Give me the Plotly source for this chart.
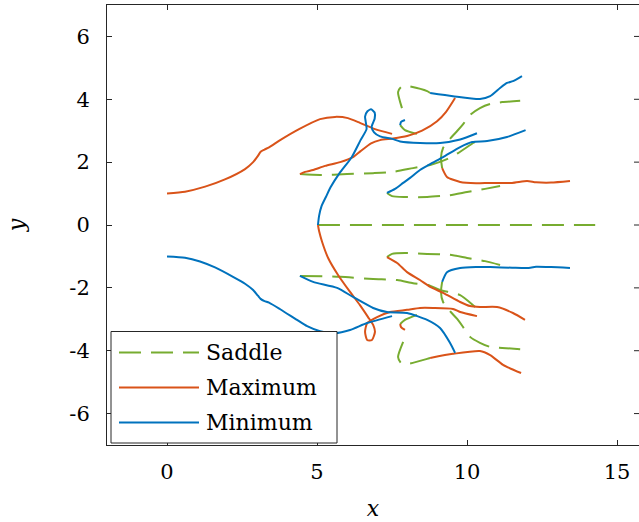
import plotly.graph_objects as go

# ---- curve data: saddle points ----
sad0_x = [5.03, 14.27]
sad0_y = [0.0, 0.0]
sad1_x = [4.43, 5.1, 6.0, 6.87, 7.53, 8.2, 8.77, 9.27, 9.7, 10.2, 10.3]
sad1_y = [1.62, 1.59, 1.62, 1.65, 1.69, 1.81, 1.91, 2.07, 2.29, 2.61, 2.67]
sad2_x = [4.43, 5.77, 6.87, 7.67, 8.2, 8.7, 9.1, 9.77, 10.2, 10.3]
sad2_y = [-1.62, -1.65, -1.72, -1.75, -1.85, -1.91, -2.07, -2.23, -2.55, -2.64]
sad3_x = [7.33, 7.5, 7.93, 8.67, 9.43, 10.0, 10.6, 11.1]
sad3_y = [1.02, 0.92, 0.89, 0.89, 0.95, 1.05, 1.15, 1.24]
sad4_x = [7.33, 7.5, 7.93, 8.67, 9.43, 10.0, 10.6, 11.1]
sad4_y = [-1.02, -0.92, -0.89, -0.92, -0.95, -1.05, -1.15, -1.27]
sad5_x = [7.83, 7.7, 7.8, 8.03, 8.67, 8.77]
sad5_y = [3.72, 4.23, 4.39, 4.42, 4.26, 4.20]
sad6_x = [7.87, 7.7, 7.8, 8.03, 8.67, 8.77]
sad6_y = [-3.72, -4.20, -4.39, -4.42, -4.26, -4.23]
sad7_x = [7.77, 7.93, 8.33]
sad7_y = [3.18, 3.02, 2.90]
sad8_x = [7.77, 7.93, 8.33]
sad8_y = [-3.15, -3.02, -2.86]
sad9_x = [9.17, 9.13, 9.2, 9.43, 9.67, 9.87, 10.1, 10.43, 10.77, 11.17, 11.77]
sad9_y = [1.81, 2.13, 2.45, 2.74, 2.99, 3.21, 3.50, 3.72, 3.85, 3.91, 3.95]
sad10_x = [9.17, 9.13, 9.2, 9.43, 9.67, 9.87, 10.1, 10.43, 10.77, 11.17, 11.77]
sad10_y = [-1.81, -2.13, -2.45, -2.74, -2.99, -3.25, -3.56, -3.75, -3.88, -3.91, -3.95]

# ---- curve data: maxima ----
max1_x = [0, 0.6, 1.27, 1.93, 2.6, 2.87, 3.03, 3.12, 3.25, 3.4, 3.77, 4.4, 5.1, 5.6, 6.03, 6.43, 6.93, 7.5]
max1_y = [1.0, 1.06, 1.22, 1.45, 1.78, 2.0, 2.2, 2.33, 2.4, 2.47, 2.7, 3.05, 3.37, 3.44, 3.40, 3.25, 3.05, 2.90]
max2_x = [4.43, 4.6, 4.87, 5.27, 5.77, 6.2, 6.45, 6.8, 7.1, 7.53, 8.0, 8.5, 9.0, 9.3, 9.6]
max2_y = [1.62, 1.69, 1.75, 1.88, 2.0, 2.16, 2.35, 2.6, 2.7, 2.75, 2.83, 3.0, 3.3, 3.6, 4.04]
max3_x = [5.03, 5.07, 5.17, 5.37, 5.7, 6.1, 6.43, 6.7, 6.87, 6.93, 6.83, 6.67, 6.6, 6.67, 7.0, 7.43, 8.0, 8.43, 8.87, 9.53, 9.77, 10.33]
max3_y = [0.0, -0.2, -0.54, -1.05, -1.59, -2.13, -2.55, -2.93, -3.18, -3.40, -3.66, -3.66, -3.40, -3.12, -2.93, -2.77, -2.70, -2.64, -2.64, -2.67, -2.77, -2.90]
max4_x = [7.33, 7.67, 8.0, 8.43, 8.77, 9.2, 9.77, 10.1, 10.43, 11.0, 11.53, 11.93]
max4_y = [-1.02, -1.21, -1.50, -1.75, -1.97, -2.16, -2.45, -2.58, -2.61, -2.61, -2.80, -3.02]
max5_x = [8.77, 9.53, 10.43, 10.77, 11.2, 11.8]
max5_y = [-4.23, -4.10, -4.01, -4.14, -4.45, -4.71]
max6_x = [7.77, 7.8, 7.93]
max6_y = [-3.15, -3.25, -3.34]
max7_x = [9.17, 9.33, 9.77, 10.3, 10.77, 11.5, 12.0, 12.3, 12.8, 13.43]
max7_y = [1.81, 1.53, 1.37, 1.33, 1.34, 1.34, 1.40, 1.36, 1.35, 1.40]

# ---- curve data: minima ----
min1_x = [0, 0.6, 1.1, 1.6, 2.2, 2.6, 2.87, 3.03, 3.12, 3.25, 3.4, 3.77, 4.3, 4.67, 5.1, 5.6, 6.1, 6.67, 7.5]
min1_y = [-1.0, -1.04, -1.16, -1.35, -1.65, -1.87, -2.07, -2.25, -2.35, -2.42, -2.47, -2.68, -3.0, -3.22, -3.38, -3.44, -3.34, -3.12, -2.90]
min2_x = [4.43, 4.87, 5.67, 6.2, 6.87, 7.33, 8.0, 8.67, 9.1, 9.43, 9.6]
min2_y = [-1.62, -1.81, -2.0, -2.29, -2.64, -2.77, -2.80, -3.02, -3.28, -3.75, -4.07]
min3_x = [5.03, 5.07, 5.15, 5.3, 5.45, 5.75, 6.15, 6.45, 6.65, 6.62, 6.6, 6.68, 6.8, 6.92, 6.92, 6.82, 6.9, 7.1, 7.5, 7.77, 8.43, 9.1, 9.77, 10.33]
min3_y = [0.0, 0.3, 0.6, 0.9, 1.2, 1.65, 2.15, 2.7, 3.05, 3.3, 3.45, 3.62, 3.68, 3.58, 3.38, 3.12, 2.95, 2.82, 2.74, 2.66, 2.61, 2.61, 2.72, 2.92]
min4_x = [7.33, 7.6, 7.87, 8.1, 8.43, 8.77, 9.2, 9.77, 10.17, 10.67, 11.33, 11.95]
min4_y = [1.02, 1.15, 1.34, 1.50, 1.75, 1.94, 2.16, 2.48, 2.64, 2.67, 2.80, 3.02]
min5_x = [8.77, 9.53, 10.43, 10.77, 11.1, 11.33, 11.53, 11.83]
min5_y = [4.20, 4.10, 4.01, 4.10, 4.36, 4.52, 4.58, 4.74]
min6_x = [7.77, 7.8, 7.93]
min6_y = [3.18, 3.28, 3.34]
min7_x = [9.17, 9.33, 9.77, 10.3, 10.77, 11.5, 12.0, 12.3, 12.8, 13.43]
min7_y = [-1.81, -1.50, -1.37, -1.34, -1.34, -1.36, -1.37, -1.33, -1.34, -1.37]

# ---- axes ----
x_ticks = [0, 5, 10, 15]
x_ticktext = ["0", "5", "10", "15"]
y_ticks = [-6, -4, -2, 0, 2, 4, 6]
y_ticktext = ["-6", "-4", "-2", "0", "2", "4", "6"]
x_range = [-2, 15.73]
y_range = [-7, 7]

series_names = ["Saddle", "Maximum", "Minimum"]

GREEN = "#77AC30"
ORANGE = "#D95319"
BLUE = "#0072BD"
AXIS = "#262626"
DASH = "22px,10px"
FONT = "DejaVu Serif"

saddles = [(sad0_x, sad0_y), (sad1_x, sad1_y), (sad2_x, sad2_y), (sad3_x, sad3_y),
           (sad4_x, sad4_y), (sad5_x, sad5_y), (sad6_x, sad6_y), (sad7_x, sad7_y),
           (sad8_x, sad8_y), (sad9_x, sad9_y), (sad10_x, sad10_y)]
maxima = [(max1_x, max1_y), (max2_x, max2_y), (max3_x, max3_y), (max4_x, max4_y),
          (max5_x, max5_y), (max6_x, max6_y), (max7_x, max7_y)]
minima = [(min1_x, min1_y), (min2_x, min2_y), (min3_x, min3_y), (min4_x, min4_y),
          (min5_x, min5_y), (min6_x, min6_y), (min7_x, min7_y)]

fig = go.Figure()

groups = [
    (series_names[0], saddles, dict(color=GREEN, width=2, dash=DASH)),
    (series_names[1], maxima, dict(color=ORANGE, width=2)),
    (series_names[2], minima, dict(color=BLUE, width=2)),
]
for name, curves, style in groups:
    for cx, cy in curves:
        fig.add_trace(go.Scatter(
            x=cx, y=cy, mode="lines", name=name, legendgroup=name,
            showlegend=False, line=dict(shape="spline", smoothing=0.6, **style),
            hoverinfo="skip",
        ))

# ---- boxed legend (long line samples) ----
W, H = 639, 522
ML, MR, MT, MB = 107, 0, 5, 77
pw, ph = W - ML - MR, H - MT - MB


def px(xp):
    return (xp - ML) / pw


def py(yp):
    return (H - MB - yp) / ph


shapes = [dict(type="rect", xref="paper", yref="paper",
               x0=px(111), x1=px(337), y0=py(443), y1=py(331.5),
               line=dict(color=AXIS, width=1), fillcolor="white", layer="above")]
annotations = []
row_y = [352.5, 387.5, 422.5]
row_style = [dict(color=GREEN, width=2, dash=DASH),
             dict(color=ORANGE, width=2), dict(color=BLUE, width=2)]
for name, yy, st in zip(series_names, row_y, row_style):
    shapes.append(dict(type="line", xref="paper", yref="paper",
                       x0=px(119), x1=px(199), y0=py(yy), y1=py(yy),
                       line=st, layer="above"))
    annotations.append(dict(text=name, xref="paper", yref="paper",
                            x=px(204), y=py(yy), xanchor="left", yanchor="middle",
                            showarrow=False,
                            font=dict(family=FONT, size=22, color="black")))

# tick stubs along the right edge
for t in y_ticks:
    shapes.append(dict(type="line", xref="paper", yref="y", xsizemode="pixel",
                       xanchor=1, x0=-5, x1=0, y0=t, y1=t,
                       line=dict(color=AXIS, width=1)))

fig.update_layout(
    width=W, height=H,
    margin=dict(l=ML, r=MR, t=MT, b=MB, pad=0),
    paper_bgcolor="white", plot_bgcolor="white",
    font=dict(family=FONT, color=AXIS),
    shapes=shapes, annotations=annotations,
    showlegend=False,
)
fig.update_xaxes(
    range=x_range, tickvals=x_ticks, ticktext=x_ticktext,
    showgrid=False, zeroline=False, showline=True, linecolor=AXIS, linewidth=1,
    mirror="ticks", ticks="inside", ticklen=5, tickcolor=AXIS, tickwidth=1,
    tickfont=dict(family=FONT, size=21, color="black"), ticklabelstandoff=8,
    title=dict(text="<i>x</i>", font=dict(family=FONT, size=22, color="black"), standoff=17),
)
fig.update_yaxes(
    range=y_range, tickvals=y_ticks, ticktext=y_ticktext,
    showgrid=False, zeroline=False, showline=True, linecolor=AXIS, linewidth=1,
    ticks="inside", ticklen=5, tickcolor=AXIS, tickwidth=1,
    tickfont=dict(family=FONT, size=21, color="black"), ticklabelstandoff=12,
    title=dict(text="<i>y</i>", font=dict(family=FONT, size=22, color="black"), standoff=38),
)

fig.write_html("out.html")
